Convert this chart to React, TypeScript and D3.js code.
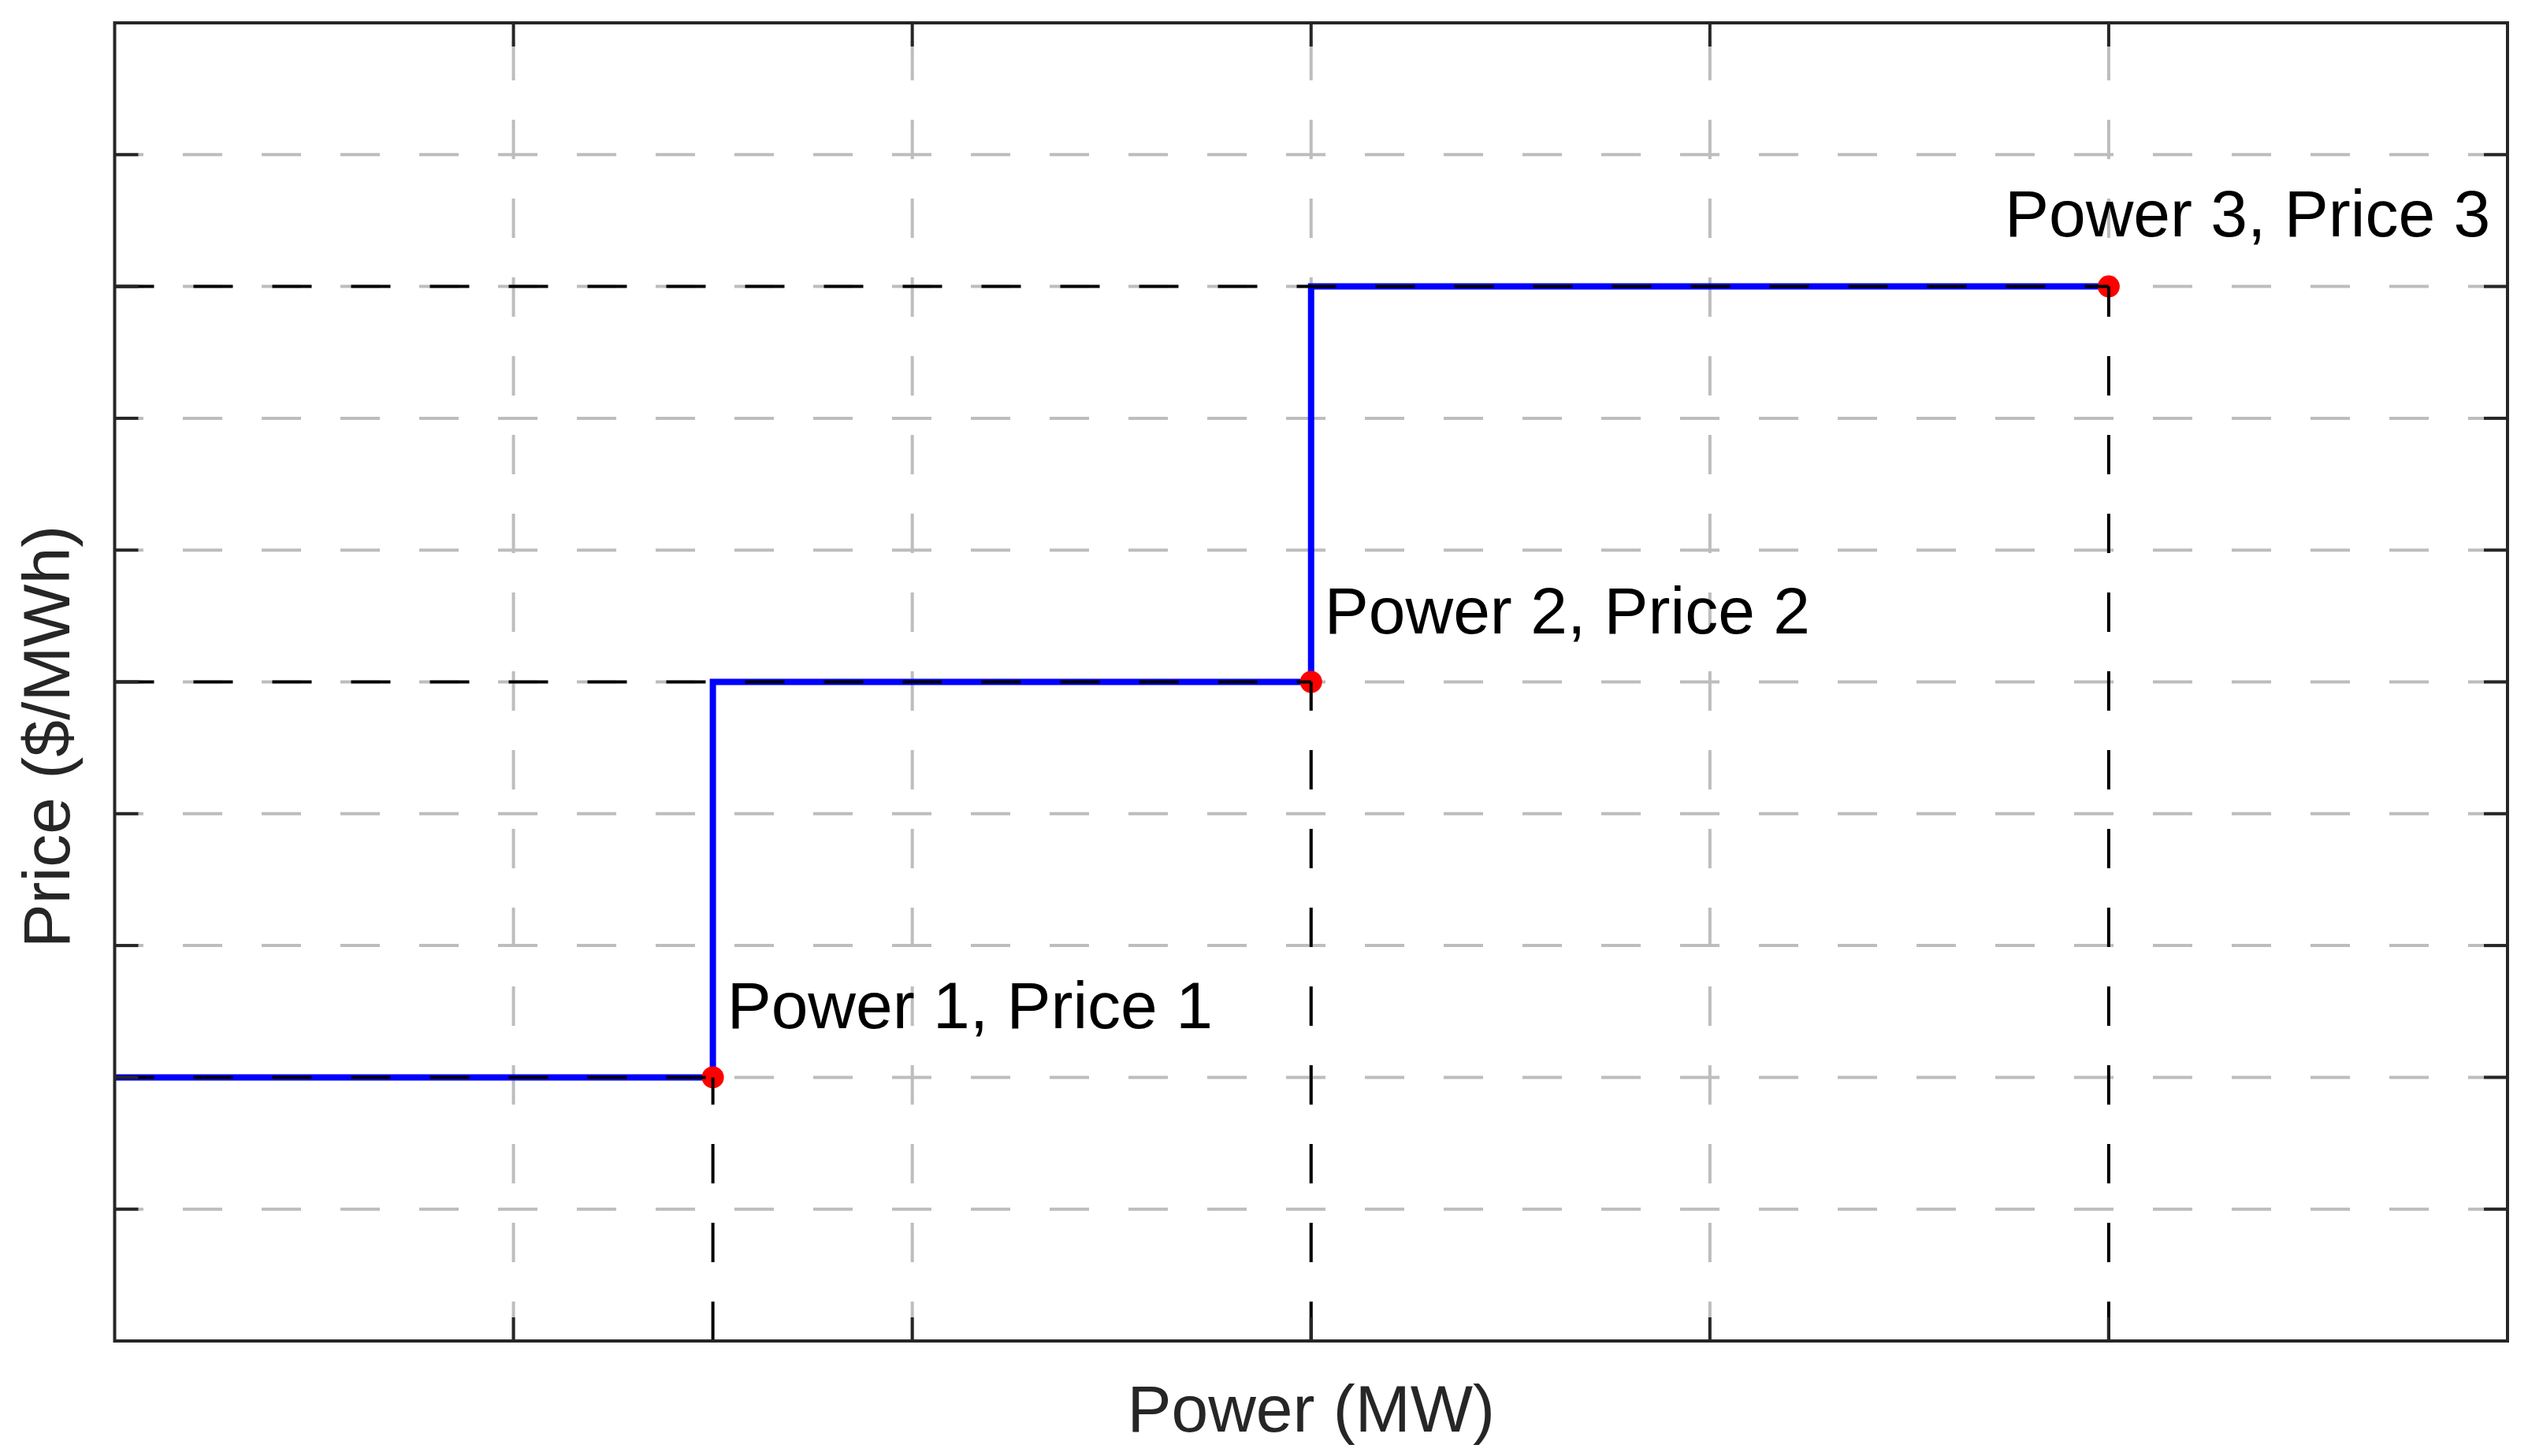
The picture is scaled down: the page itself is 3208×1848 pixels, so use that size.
import React from "react";
import * as d3 from "d3";

// ---- data ----
const powerTicks = [0, 1, 2, 3, 4, 5, 6];
const priceTicks = [0, 1, 2, 3, 4, 5, 6, 7, 8, 9, 10];
const bidPowers = [1.5, 3, 5];
const bidPrices = [2, 5, 8];
const bidLabels = ["Power 1, Price 1", "Power 2, Price 2", "Power 3, Price 3"];
// step curve: starts at zero power with the first price
const stepPowers = [0, 1.5, 3, 5];
const stepPrices = [2, 2, 5, 8];
const xLabel = "Power (MW)";
const yLabel = "Price ($/MWh)";

// ---- layout ----
const W = 3208;
const H = 1848;
const PLOT = { left: 145.5, right: 3182, top: 29, bottom: 1702 };
const labelOffsets = [
  { dx: 18, dy: -62 },
  { dx: 17, dy: -62 },
  { dx: -132, dy: -63.5 },
];
const FONT = "'Liberation Sans', Arial, Helvetica, sans-serif";
const AXIS_COLOR = "#262626";
const GRID_COLOR = "#bdbdbd";
const DASH = "50 50";

export default function App() {
  const x = d3.scaleLinear().domain([0, 6]).range([PLOT.left, PLOT.right]);
  const y = d3.scaleLinear().domain([0, 10]).range([PLOT.bottom, PLOT.top]);

  const stepLine = d3
    .line<number>()
    .x((d, i) => x(stepPowers[i]))
    .y((d, i) => y(stepPrices[i]))
    .curve(d3.curveStepBefore);

  const innerX = powerTicks.filter((t) => t > 0 && t < 6);
  const innerY = priceTicks.filter((t) => t > 0 && t < 10);
  const tickLen = 30;

  return (
    <svg
      width={W}
      height={H}
      viewBox={`0 0 ${W} ${H}`}
      style={{ position: "absolute", left: 0, top: 0, display: "block", background: "#fff" }}
    >
      <rect x={0} y={0} width={W} height={H} fill="#fff" />
      {/* grid */}
      <g stroke={GRID_COLOR} strokeWidth={4} strokeDasharray={DASH} fill="none">
        {innerY.map((t) => (
          <path key={"gy" + t} d={`M${PLOT.right},${y(t)}L${PLOT.left},${y(t)}`} />
        ))}
        {innerX.map((t) => (
          <path key={"gx" + t} d={`M${x(t)},${PLOT.bottom}L${x(t)},${PLOT.top}`} />
        ))}
      </g>

      {/* step curve */}
      <path
        d={stepLine(stepPowers) || ""}
        fill="none"
        stroke="#0000ff"
        strokeWidth={8}
      />

      {/* bid points */}
      {bidPowers.map((p, i) => (
        <circle key={"pt" + i} cx={x(p)} cy={y(bidPrices[i])} r={14} fill="#ff0000" />
      ))}

      {/* reference dashed lines */}
      <g stroke="#000" strokeWidth={4} strokeDasharray={DASH} fill="none">
        {bidPowers.map((p, i) => (
          <g key={"ref" + i}>
            <path d={`M${x(0)},${y(bidPrices[i])}L${x(p)},${y(bidPrices[i])}`} />
            <path d={`M${x(p)},${y(0)}L${x(p)},${y(bidPrices[i])}`} />
          </g>
        ))}
      </g>

      {/* point labels */}
      {bidPowers.map((p, i) => (
        <text
          key={"lab" + i}
          x={x(p) + labelOffsets[i].dx}
          y={y(bidPrices[i]) + labelOffsets[i].dy}
          fontFamily={FONT}
          fontSize={84}
          fill="#000"
        >
          {bidLabels[i]}
        </text>
      ))}

      {/* axes box and ticks */}
      <g stroke={AXIS_COLOR} strokeWidth={4} fill="none">
        <rect
          x={PLOT.left}
          y={PLOT.top}
          width={PLOT.right - PLOT.left}
          height={PLOT.bottom - PLOT.top}
        />
        {innerX.map((t) => (
          <g key={"tx" + t}>
            <line x1={x(t)} x2={x(t)} y1={PLOT.bottom} y2={PLOT.bottom - tickLen} />
            <line x1={x(t)} x2={x(t)} y1={PLOT.top} y2={PLOT.top + tickLen} />
          </g>
        ))}
        {innerY.map((t) => (
          <g key={"ty" + t}>
            <line x1={PLOT.left} x2={PLOT.left + tickLen} y1={y(t)} y2={y(t)} />
            <line x1={PLOT.right} x2={PLOT.right - tickLen} y1={y(t)} y2={y(t)} />
          </g>
        ))}
      </g>

      {/* axis labels */}
      <text
        x={(PLOT.left + PLOT.right) / 2}
        y={1817}
        textAnchor="middle"
        fontFamily={FONT}
        fontSize={84}
        fill={AXIS_COLOR}
      >
        {xLabel}
      </text>
      <text
        transform={`translate(88,935) rotate(-90)`}
        textAnchor="middle"
        fontFamily={FONT}
        fontSize={84}
        fill={AXIS_COLOR}
      >
        {yLabel}
      </text>
    </svg>
  );
}
